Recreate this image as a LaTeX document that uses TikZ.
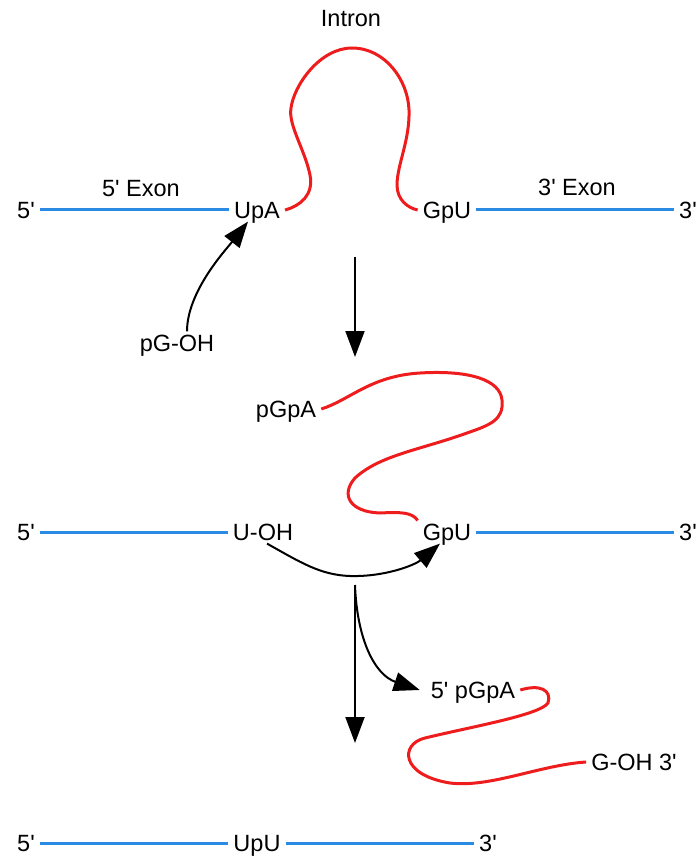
\documentclass[tikz,border=0pt]{standalone}
\usepackage{fontspec}
\setmainfont{Liberation Sans}
\usepackage{tikz}
\usetikzlibrary{arrows.meta}
\definecolor{ExonBlue}{HTML}{2B8BE2}
\definecolor{IntronRed}{HTML}{EE1C1C}
\newcommand{\prm}{\textquotesingle}
\tikzset{
	exon/.style = {
		draw       = ExonBlue,
		line width = 3pt,
	},
	intron/.style = {
		draw       = IntronRed,
		line width = 3pt,
	},
	react/.style = {
		draw       = black,
		line width = 2pt,
		-{Triangle[length = 26pt, width = 19pt]},
	},
}

\begin{document}
\begin{tikzpicture}[x = 1pt, y = -1pt]
                    \useasboundingbox (0, 0) rectangle (698, 858);

                    \coordinate (stepA) at (355, 257);
                    \coordinate (stepB) at (355, 357);
                    \coordinate (stepC) at (355, 585);
                    \coordinate (stepD) at (355, 743);

                    \begin{scope}[
                        every node/.style = {
                            font        = \fontsize{23.5}{28}\selectfont,
                            inner xsep  = 5pt,
                            inner ysep  = 3pt,
                            text height = 16.8pt,
                            text depth  = 0pt,
                        }
                    ]
                        \node (intron) at (351,  18) {Intron};
                        \node (exonL)  at (141, 188) {5\prm{} Exon};
                        \node (exonR)  at (577, 187) {3\prm{} Exon};
                        \node (endLA)  at ( 26, 210) {5\prm};
                        \node (upa)    at (257, 210) {UpA};
                        \node (gpuA)   at (447, 210) {GpU};
                        \node (endRA)  at (688, 210) {3\prm};
                        \node (pgoh)   at (177, 343) {pG-OH};

                        \node (pgpaB)  at (286, 409) {pGpA};
                        \node (endLB)  at ( 26, 532) {5\prm};
                        \node (uoh)    at (263, 532) {U-OH};
                        \node (gpuB)   at (447, 532) {GpU};
                        \node (endRB)  at (688, 532) {3\prm};

                        \node (pgpaC)  at (473, 690) {5\prm{} pGpA};
                        \node (gohC)   at (634, 762) {G-OH 3\prm};

                        \node (endLD)  at ( 26, 843) {5\prm};
                        \node (upu)    at (257, 843) {UpU};
                        \node (endRD)  at (488, 843) {3\prm};
                    \end{scope}

                    \draw[exon]
                        (endLA) -- (upa)
                        (gpuA)  -- (endRA)
                        (endLB) -- (uoh)
                        (gpuB)  -- (endRB)
                        (endLD) -- (upu)
                        (upu)   -- (endRD)
                    ;

                    \draw[intron] (upa.east)
                        .. controls (300, 206) and (314, 195) .. (310, 175)
                        .. controls (305, 150) and (288, 125) .. (291, 108)
                        .. controls (294,  85) and (320,  48) .. (352,  48)
                        .. controls (385,  48) and (408,  80) .. (409, 110)
                        .. controls (410, 140) and (397, 165) .. (397, 185)
                        .. controls (397, 200) and (408, 208) .. (gpuA.west);

                    \draw[intron] (pgpaB.east)
                        .. controls (350, 400) and (370, 376) .. (420, 373)
                        .. controls (470, 370) and (500, 380) .. (502, 400)
                        .. controls (504, 420) and (490, 425) .. (467, 433)
                        .. controls (420, 450) and (380, 455) .. (355, 478)
                        .. controls (340, 495) and (350, 512) .. (380, 513)
                        .. controls (400, 512) and (412, 512) .. (gpuB.north west);

                    \draw[intron] (pgpaC.east)
                        .. controls (540, 684) and (552, 690) .. (548, 703)
                        .. controls (540, 715) and (470, 727) .. (425, 738)
                        .. controls (400, 744) and (400, 775) .. (450, 783)
                        .. controls (490, 788) and (540, 765) .. (gohC.west);

                    \draw[react] ([xshift = 10pt]pgoh.north)
                        .. controls +(0, -40) and +(-22, 28) .. ([xshift = -9pt]upa.south);
                    \draw[react] ([xshift = 4pt]uoh.south)
                        .. controls (300, 562) and (320, 575) .. (350, 576)
                        .. controls (385, 577) and (415, 565) .. ([xshift = -7pt]gpuB.south);
                    \draw[react] (stepC)
                        .. controls (357, 640) and (375, 675) .. ([xshift = -6pt]pgpaC.west);
                    \draw[react] (stepA) -- (stepB);
                    \draw[react] (stepC) -- (stepD);
                \end{tikzpicture}
\end{document}
